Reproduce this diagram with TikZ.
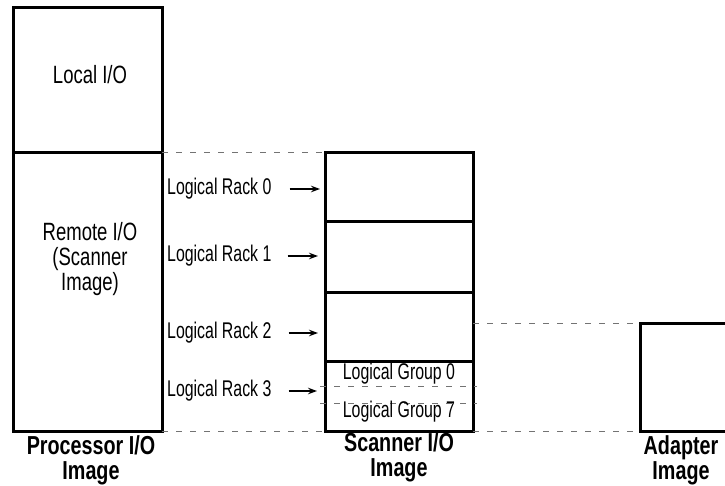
\documentclass[tikz,border=0pt]{standalone}
\usepackage{fontspec}
\setmainfont[FakeStretch=0.74]{Liberation Sans}
\newfontfamily\lcond[FakeStretch=0.7]{Liberation Sans}
\newfontfamily\bcond[FakeStretch=0.76]{Liberation Sans Bold}
\usetikzlibrary{arrows.meta}
\begin{document}
\begin{tikzpicture}[x=1pt,y=-1pt,
  box/.style={draw, line width=3pt, anchor=north west, inner sep=0pt, outer sep=0pt},
  guide/.style={draw=black!55, line width=1pt, dash pattern=on 6pt off 8pt},
  lbl/.style={font=\lcond\fontsize{22.7}{25}\selectfont, inner sep=0pt, align=center},
  big/.style={font=\fontsize{25}{25}\selectfont, inner sep=0pt, align=center},
  ttl/.style={font=\bcond\fontsize{26}{25}\selectfont, inner sep=0pt, align=center},
  arr/.style={-{Stealth[length=9pt,width=6.5pt]}, line width=1.2pt}]
\useasboundingbox (0,0) rectangle (725,486);
% processor image
\node[box, minimum width=149pt, minimum height=145pt] (local) at (13,8) {};
\node[box, minimum width=149pt, minimum height=278pt] (remote) at (13,153) {};
\node[big] (tlocal) at (90,75) {Local I/O};
\node[big] (tremote) at (90,259) {Remote I/O\\(Scanner\\Image)};
% scanner image
\node[box, minimum width=148pt, minimum height=69pt] (b0) at (325,153) {};
\node[box, minimum width=148pt, minimum height=70pt] (b1) at (325,222) {};
\node[box, minimum width=148pt, minimum height=69pt] (b2) at (325,292) {};
\node[box, minimum width=148pt, minimum height=70pt] (b3) at (325,361) {};
% adapter image
\node[box, minimum width=110pt, minimum height=108pt] (adapter) at (640,323) {};
% dashed guides
\coordinate (gl0) at (320,386); \coordinate (gr0) at (477,386);
\coordinate (gl7) at (320,403); \coordinate (gr7) at (477,403);
\draw[guide] (local.south east) -- (b0.north west);
\draw[guide] (remote.south east) -- (b3.south west);
\draw[guide] (b2.east |- adapter.north west) -- (adapter.north west);
\draw[guide] (b3.south east) -- (adapter.south west);
\draw[guide] (gl0) -- (gr0);
\draw[guide] (gl7) -- (gr7);
% group labels
\node[lbl] (g0) at (399,374) {Logical Group 0};
\node[lbl] (g7) at (399,412) {Logical Group 7};
% rack labels
\node[lbl, anchor=west] (r0) at (167,189) {Logical Rack 0};
\node[lbl, anchor=west] (r1) at (167,256) {Logical Rack 1};
\node[lbl, anchor=west] (r2) at (167,333) {Logical Rack 2};
\node[lbl, anchor=west] (r3) at (167,391) {Logical Rack 3};
\draw[arr] ([xshift=18pt]r0.east) -- ([xshift=-5pt]r0.east -| b0.west);
\draw[arr] ([xshift=16pt]r1.east) -- ([xshift=-7pt]r1.east -| b1.west);
\draw[arr] ([xshift=17pt]r2.east) -- ([xshift=-7pt]r2.east -| b2.west);
\draw[arr] ([xshift=17pt]r3.east) -- ([xshift=-8pt]r3.east -| b3.west);
% titles
\node[ttl] (tproc) at (91,460) {Processor I/O\\Image};
\node[ttl] (tscan) at (399,457) {Scanner I/O\\Image};
\node[ttl] (tadap) at (681,460) {Adapter\\Image};
\end{tikzpicture}
\end{document}
